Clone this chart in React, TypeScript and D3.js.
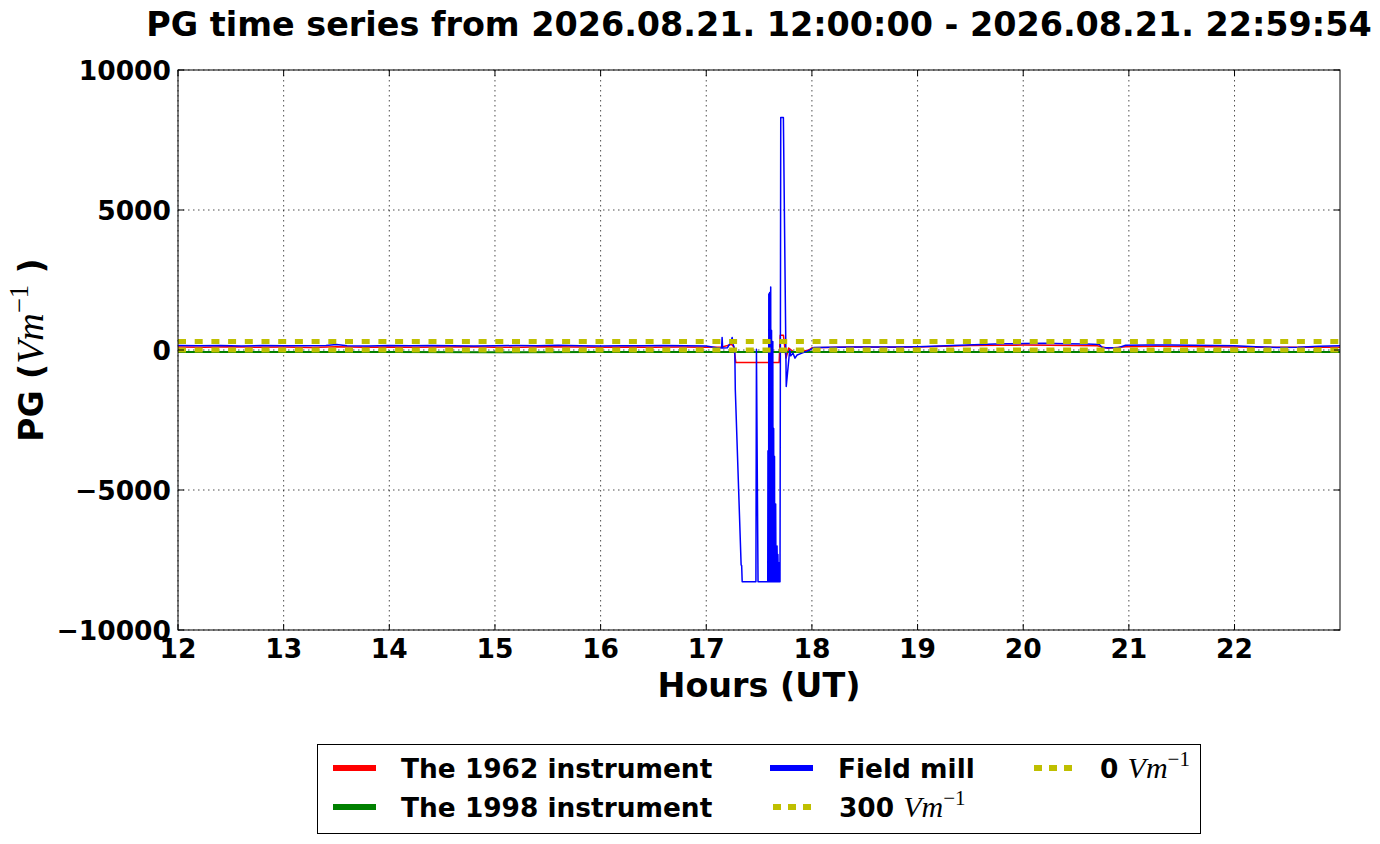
import * as d3 from "d3"

// decimal hours (UT) and PG values in V/m
const redHours = [12.0, 12.25, 12.5, 12.75, 13.0, 13.25, 13.5, 13.75, 14.0, 14.25, 14.5, 14.75, 15.0, 15.25, 15.5, 15.75, 16.0, 16.25, 16.5, 16.75, 17.0, 17.15, 17.24, 17.26, 17.28, 17.69, 17.7, 17.73, 17.755, 17.78, 17.82, 17.9, 17.97, 18.0, 18.25, 18.5, 18.75, 19.0, 19.25, 19.5, 19.75, 20.0, 20.25, 20.5, 20.7, 20.8, 20.97, 21.25, 21.5, 21.75, 22.0, 22.25, 22.5, 22.75, 23.0]
const redValues = [110, 95, 115, 100, 105, 90, 120, 100, 110, 95, 105, 115, 100, 95, 120, 105, 100, 110, 95, 105, 100, 110, 200, 120, -450, -450, 530, 530, -290, 70, -50, -60, 0, 80, 95, 105, 100, 110, 130, 160, 170, 175, 170, 165, 150, 60, 120, 130, 125, 120, 110, 100, 95, 100, 95]

const greenHours = [12, 13, 14, 15, 16, 17, 18, 19, 20, 21, 22, 23]
const greenValues = [-70, -75, -70, -80, -70, -75, -70, -75, -70, -72, -75, -70]

const blueHours = [
  12.0, 12.2, 12.4, 12.6, 12.8, 13.0, 13.2, 13.4, 13.5, 13.6, 13.8, 14.0, 14.2, 14.4, 14.6, 14.8, 15.0, 15.2, 15.4, 15.6, 15.8, 16.0, 16.2, 16.4, 16.6, 16.8, 17.0, 17.1, 17.145, 17.15, 17.155, 17.2, 17.235, 17.245, 17.255, 17.27, 17.275, 17.33, 17.335, 17.34, 17.47, 17.475, 17.49,
  17.582, 17.584, 17.586, 17.588, 17.59, 17.592, 17.594, 17.596, 17.598, 17.6, 17.602, 17.604, 17.606, 17.608, 17.61, 17.612, 17.614, 17.616, 17.618, 17.62, 17.622, 17.624, 17.626, 17.628, 17.63, 17.632, 17.634, 17.636, 17.638, 17.64, 17.642, 17.644, 17.646, 17.648, 17.651, 17.654, 17.657, 17.66, 17.663, 17.666, 17.67, 17.674, 17.678, 17.682, 17.688, 17.692, 17.698,
  17.705, 17.73, 17.757, 17.79, 17.8, 17.82, 17.84, 17.86, 17.9, 17.95, 17.98, 18.02, 18.2, 18.4, 18.6, 18.8, 19.0, 19.2, 19.4, 19.6, 19.8, 20.0, 20.2, 20.4, 20.6, 20.72, 20.75, 20.9, 20.97, 21.2, 21.4, 21.6, 21.8, 22.0, 22.2, 22.4, 22.6, 22.8, 23.0,
]
const blueValues = [
  160, 150, 165, 145, 160, 150, 155, 160, 200, 155, 145, 160, 150, 165, 155, 145, 150, 160, 155, 170, 150, 145, 155, 150, 160, 150, 140, 80, 70, 450, 70, 80, 300, 450, 200, 0, -1430, -7680, -7700, -8280, -8280, 30, -8280,
  -8280, -3600, -7900, -4200, -8280, 2000, -8280, -3000, -8280, 2050, -6000, -1500, -8280, -2500, 2250, -8280, -600, -8280, 700, -7200, -2000, -8280, -3500, -8280, 300, -8280, -4500, -8280, -2800, -8280, -5000, -8280, -3800, -8280, -6500, -8280, -5500, -8280, -7400, -8280, -7000, -8280, -7300, -8280, -7600, -8280, -8280,
  8300, 8300, -1300, 0, -210, -110, -290, -180, -120, -50, 0, 90, 100, 110, 105, 110, 120, 140, 170, 200, 220, 230, 240, 220, 210, 200, 80, 80, 170, 180, 175, 170, 165, 150, 120, 90, 100, 130, 150,
]

const refLevels = [300, 0]
const xTicks = [12, 13, 14, 15, 16, 17, 18, 19, 20, 21, 22]
const yTicks = [-10000, -5000, 0, 5000, 10000]

const W = 1380
const H = 844
const left = 178
const right = 1340
const top = 70
const bottom = 630
const endHour = 22 + 59 / 60 + 54 / 3600

const sans = "'DejaVu Sans', sans-serif"
const serif = "'Liberation Serif', 'DejaVu Serif', serif"
const yellow = "#bfbf00"

function fmt(v: number) {
  return v < 0 ? "\u2212" + Math.abs(v) : String(v)
}

export default function App() {
  const x = d3.scaleLinear().domain([12, endHour]).range([left, right])
  const y = d3.scaleLinear().domain([-10000, 10000]).range([bottom, top])

  const line = d3
    .line<[number, number]>()
    .x((d) => x(d[0]))
    .y((d) => y(d[1]))

  const zip = (h: number[], v: number[]) => h.map((t, i) => [t, v[i]] as [number, number])

  const series = [
    { pts: zip(redHours, redValues), color: "#ff0000", w: 1.5 },
    { pts: zip(greenHours, greenValues), color: "#008000", w: 2 },
    { pts: zip(blueHours, blueValues), color: "#0000ff", w: 1.5 },
  ]

  // mathtext-like "Vm^-1"
  const unit = (size: number) => (
    <>
      <tspan fontFamily={serif} fontStyle="italic" fontWeight="normal" fontSize={size}>Vm</tspan>
      <tspan fontFamily={serif} fontWeight="normal" fontSize={size * 0.7} dy={-size * 0.4}>{"\u22121"}</tspan>
    </>
  )

  const legendItems = [
    { label: <>The 1962 instrument</>, color: "#ff0000", dash: "", x: 333, y: 768 },
    { label: <>The 1998 instrument</>, color: "#008000", dash: "", x: 333, y: 807 },
    { label: <>Field mill</>, color: "#0000ff", dash: "", x: 770, y: 768 },
    { label: <>300 {unit(30)}</>, color: yellow, dash: "8 7", x: 773, y: 807 },
    { label: <>0 {unit(30)}</>, color: yellow, dash: "8 7", x: 1034, y: 768 },
  ]

  return (
    <svg width={W} height={H} style={{ position: "absolute", left: 0, top: 0, background: "#fff" }} fontFamily={sans}>
      <defs>
        <clipPath id="plot">
          <rect x={left} y={top} width={right - left} height={bottom - top} />
        </clipPath>
      </defs>
      <rect x={0} y={0} width={W} height={H} fill="#fff" />

      {/* grid */}
      <g stroke="#000" strokeWidth={0.7} strokeDasharray="1.5 3.5">
        {xTicks.map((t) => (
          <line key={"gx" + t} x1={x(t)} x2={x(t)} y1={top} y2={bottom} />
        ))}
        {yTicks.map((t) => (
          <line key={"gy" + t} x1={left} x2={right} y1={y(t)} y2={y(t)} />
        ))}
      </g>

      {/* data */}
      <g clipPath="url(#plot)" fill="none" strokeLinejoin="round">
        {series.map((s, i) => (
          <path key={i} d={line(s.pts) ?? ""} stroke={s.color} strokeWidth={s.w} />
        ))}
        {refLevels.map((v) => (
          <line key={"r" + v} x1={x(12)} x2={x(endHour)} y1={y(v)} y2={y(v)} stroke={yellow} strokeWidth={5} strokeDasharray="8 8.7" />
        ))}
      </g>

      {/* frame and ticks */}
      <rect x={left} y={top} width={right - left} height={bottom - top} fill="none" stroke="#000" strokeWidth={1} />
      <g stroke="#000" strokeWidth={1}>
        {xTicks.map((t) => (
          <g key={"tx" + t}>
            <line x1={x(t)} x2={x(t)} y1={bottom} y2={bottom - 6} />
            <line x1={x(t)} x2={x(t)} y1={top} y2={top + 6} />
          </g>
        ))}
        {yTicks.map((t) => (
          <g key={"ty" + t}>
            <line x1={left} x2={left + 6} y1={y(t)} y2={y(t)} />
            <line x1={right} x2={right - 6} y1={y(t)} y2={y(t)} />
          </g>
        ))}
      </g>

      {/* tick labels */}
      <g fontSize={26.5} fontWeight="bold" fill="#000">
        {xTicks.map((t) => (
          <text key={"lx" + t} x={x(t)} y={658} textAnchor="middle">{t}</text>
        ))}
        {yTicks.map((t) => (
          <text key={"ly" + t} x={171} y={y(t) + 9.7} textAnchor="end">{fmt(t)}</text>
        ))}
      </g>

      {/* titles */}
      <text x={(left + right) / 2} y={36} textAnchor="middle" fontSize={33.4} fontWeight="bold">
        PG time series from 2026.08.21. 12:00:00 - 2026.08.21. 22:59:54
      </text>
      <text x={(left + right) / 2} y={697} textAnchor="middle" fontSize={33.4} fontWeight="bold">
        Hours (UT)
      </text>
      <text transform={`translate(43,${(top + bottom) / 2}) rotate(-90)`} textAnchor="middle" fontSize={33} fontWeight="bold">
        PG ({unit(38)}<tspan dy={38 * 0.4}> )</tspan>
      </text>

      {/* legend */}
      <rect x={317.5} y={744.5} width={883} height={89} fill="#fff" stroke="#000" strokeWidth={1} />
      {legendItems.map((it, i) => (
        <g key={"lg" + i}>
          <line x1={it.x} x2={it.x + (it.dash ? 38 : 43)} y1={it.y} y2={it.y} stroke={it.color} strokeWidth={6} strokeDasharray={it.dash || undefined} />
          <text x={it.x + (it.dash ? 66 : 68)} y={it.y + 9.7} fontSize={26.4} fontWeight="bold">{it.label}</text>
        </g>
      ))}
    </svg>
  )
}
